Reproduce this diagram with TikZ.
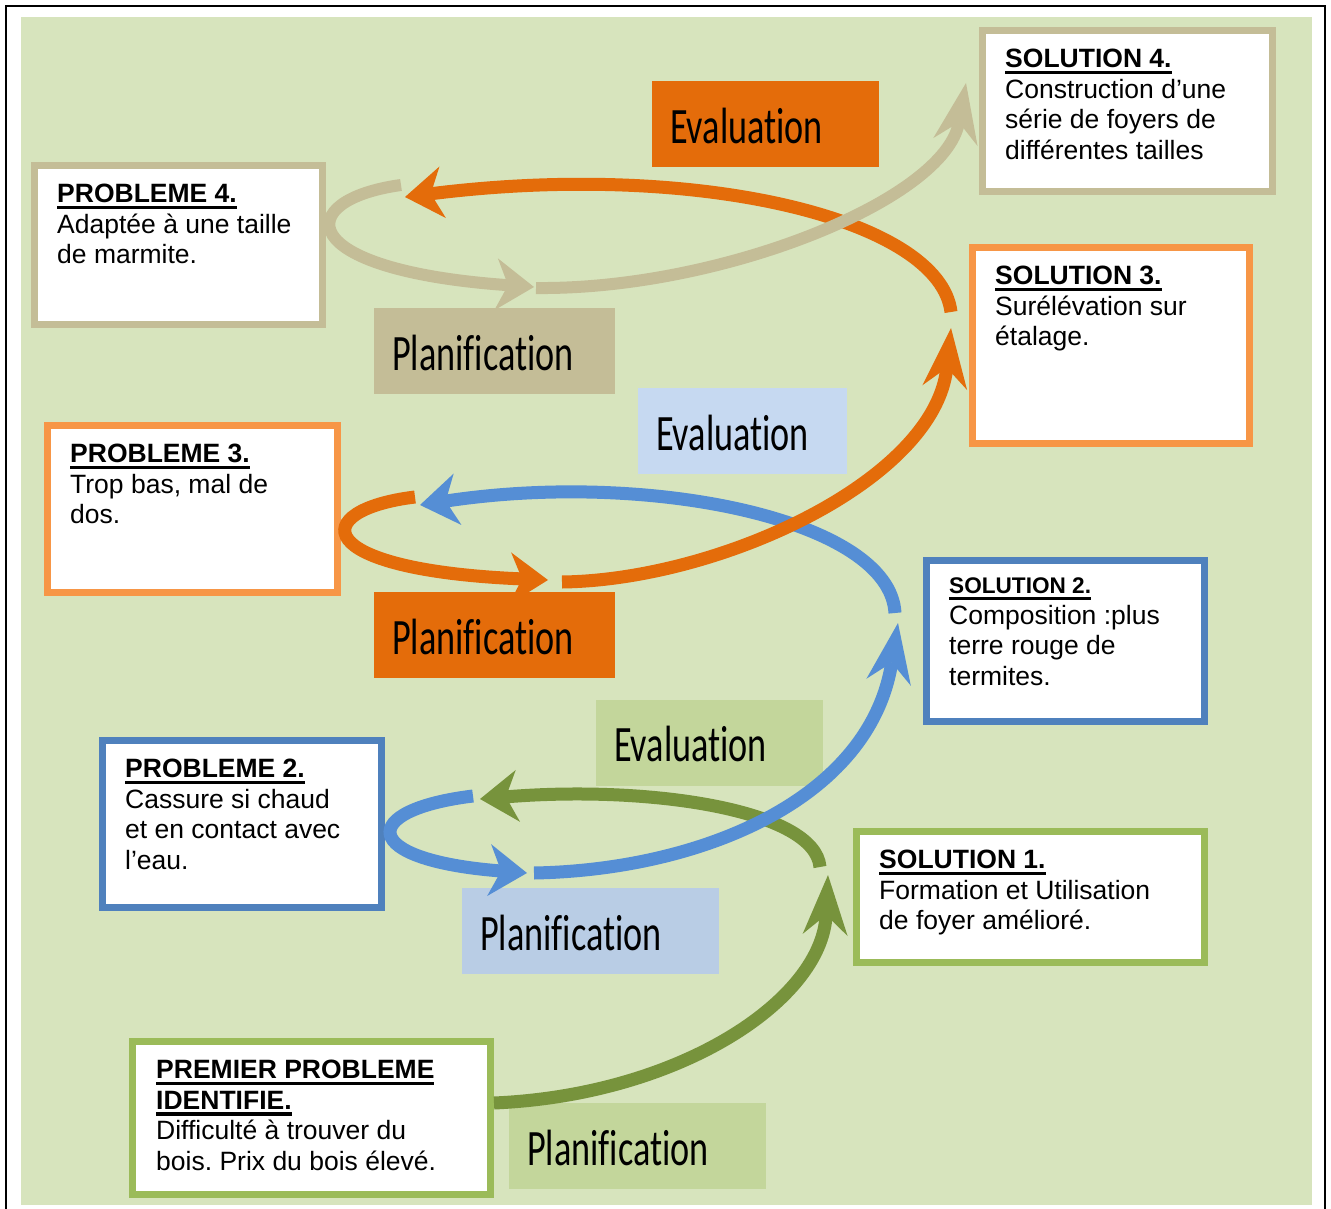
\documentclass[tikz,border=0pt]{standalone}
\usepackage{fontspec}
\setmainfont{Liberation Sans}
\newfontfamily\lblfont[FakeStretch=0.71, Ligatures=NoCommon]{Carlito}
\usetikzlibrary{arrows.meta}
\definecolor{bgc}{HTML}{D7E4BD}
\definecolor{tanc}{HTML}{C4BD97}
\definecolor{orgc}{HTML}{E46C0A}
\definecolor{orgl}{HTML}{F79646}
\definecolor{bluc}{HTML}{558ED5}
\definecolor{blul}{HTML}{4F81BD}
\definecolor{blut}{HTML}{C6D9F1}
\definecolor{blup}{HTML}{B9CDE5}
\definecolor{grnc}{HTML}{77933C}
\definecolor{grnl}{HTML}{9BBB59}
\definecolor{grnt}{HTML}{C3D69B}
\newcommand\titre[1]{\setbox0\hbox{\bfseries#1}\rlap{\rule[-6.8pt]{\wd0}{3.4pt}}\box0}
\frenchspacing

\begin{document}
\begin{tikzpicture}[
    x=1pt, y=-1pt,
    probbox/.style = {draw=#1, fill=white, line width=7pt},
    boxtext/.style = {anchor=north west, inner sep=0pt, align=left,
        font=\fontsize{26.5}{30.8}\selectfont},
    tag/.style = {fill=#1, inner xsep=18pt, inner ysep=0pt, align=left,
        text height=38pt, text depth=0pt, minimum height=86pt,
        font=\lblfont\fontsize{51}{55}\selectfont},
    turn/.style = {draw=#1, line width=13pt,
        -{Stealth[length=38pt, width=52pt, inset=12pt, line width=0pt]}},
    climb/.style = {draw=#1, line width=13pt,
        -{Stealth[length=60pt, width=45pt, inset=20pt, line width=0pt]}}
  ]
  \useasboundingbox (0,0) rectangle (1331,1209);
  \fill[bgc] (21,17) rectangle (1312,1205);
  \draw[line width=2pt] (6,1209) -- (6,6) -- (1325,6) -- (1325,1209);

  % problemes et solutions
  \node[probbox=grnl, minimum width=358pt, minimum height=153pt] (P1) at (311.5,1118) {};
  \node[probbox=grnl, minimum width=348pt, minimum height=131pt] (S1) at (1030.5,897) {};
  \node[probbox=blul, minimum width=279pt, minimum height=167pt] (P2) at (242,824) {};
  \node[probbox=blul, minimum width=278pt, minimum height=161pt] (S2) at (1065.5,641) {};
  \node[probbox=orgl, minimum width=290pt, minimum height=167pt] (P3) at (192.5,509) {};
  \node[probbox=orgl, minimum width=277pt, minimum height=196pt] (S3) at (1111,345.5) {};
  \node[probbox=tanc, minimum width=288pt, minimum height=159pt] (P4) at (178.5,245) {};
  \node[probbox=tanc, minimum width=290pt, minimum height=161pt] (S4) at (1127.5,111) {};

  \node[boxtext] (P1t) at ([shift={(27,18.5)}]P1.north west)
    {\strut\titre{PREMIER PROBLEME}\\\titre{IDENTIFIE.}\\Difficulté à trouver du\\bois. Prix du bois élevé.};
  \node[boxtext] (S1t) at ([shift={(26,18.5)}]S1.north west)
    {\strut\titre{SOLUTION 1.}\\Formation et Utilisation\\de foyer amélioré.};
  \node[boxtext] (P2t) at ([shift={(26,18.5)}]P2.north west)
    {\strut\titre{PROBLEME 2.}\\Cassure si chaud\\et en contact avec\\l’eau.};
  \node[boxtext] (S2t) at ([shift={(26,14.5)}]S2.north west)
    {\strut{\fontsize{22.6}{30.8}\selectfont\titre{SOLUTION 2.}}\\Composition :plus\\terre rouge de\\termites.};
  \node[boxtext] (P3t) at ([shift={(26,18.5)}]P3.north west)
    {\strut\titre{PROBLEME 3.}\\Trop bas, mal de\\dos.};
  \node[boxtext] (S3t) at ([shift={(26,18.5)}]S3.north west)
    {\strut\titre{SOLUTION 3.}\\Surélévation sur\\étalage.};
  \node[boxtext] (P4t) at ([shift={(26,18.5)}]P4.north west)
    {\strut\titre{PROBLEME 4.}\\Adaptée à une taille\\de marmite.};
  \node[boxtext] (S4t) at ([shift={(26,18.5)}]S4.north west)
    {\strut\titre{SOLUTION 4.}\\Construction d’une\\série de foyers de\\différentes tailles};

  % etiquettes
  \node[tag=grnt, text width=221pt] (plan1) at (637.5,1146) {Planification};
  \node[tag=grnt, text width=191pt] (eval1) at (709.5,742.5) {Evaluation};
  \node[tag=blup, text width=221pt] (plan2) at (590.5,931) {Planification};
  \node[tag=blut, text width=173pt] (eval2) at (742.5,431) {Evaluation};
  \node[tag=orgc, text width=205pt] (plan3) at (494.5,635) {Planification};
  \node[tag=orgc, text width=191pt] (eval3) at (765.5,124.5) {Evaluation};
  \node[tag=tanc, text width=205pt] (plan4) at (494.5,351) {Planification};

  % spirale
  \coordinate (g1) at (828,875);
  \coordinate (g2) at (820,867);
  \coordinate (g3) at (480,799);
  \coordinate (b0) at (473,796);
  \coordinate (b1) at (527,873);
  \coordinate (b2) at (534,873);
  \coordinate (b3) at (898,623);
  \coordinate (b4) at (895,613);
  \coordinate (b5) at (420,505);
  \coordinate (o0) at (415,497);
  \coordinate (o1) at (548,580);
  \coordinate (o2) at (562,582);
  \coordinate (o3) at (951,328);
  \coordinate (o4) at (951,312);
  \coordinate (o5) at (405,197);
  \coordinate (t0) at (401,185);
  \coordinate (t1) at (534,287);
  \coordinate (t2) at (536,288);
  \coordinate (t3) at (966,83);

  \draw[climb=grnc] ([yshift=15pt]P1.east) .. controls (680,1095) and (822,1000) .. (g1);
  \draw[turn=grnc] (g2) .. controls (815,810) and (650,785) .. (g3);
  \draw[turn=bluc] (b0) .. controls (358,810) and (358,860) .. (b1);
  \draw[climb=bluc] (b2) .. controls (700,870) and (870,800) .. (b3);
  \draw[turn=bluc] (b4) .. controls (890,520) and (650,470) .. (b5);
  \draw[turn=orgc] (o0) .. controls (308,510) and (308,570) .. (o1);
  \draw[climb=orgc] (o2) .. controls (720,580) and (935,480) .. (o3);
  \draw[turn=orgc] (o4) .. controls (940,220) and (700,160) .. (o5);
  \draw[turn=tanc, line width=12pt] (t0) .. controls (292,200) and (292,270) .. (t1);
  \draw[climb=tanc, line width=12pt] (t2) .. controls (720,290) and (945,200) .. (t3);
\end{tikzpicture}
\end{document}
